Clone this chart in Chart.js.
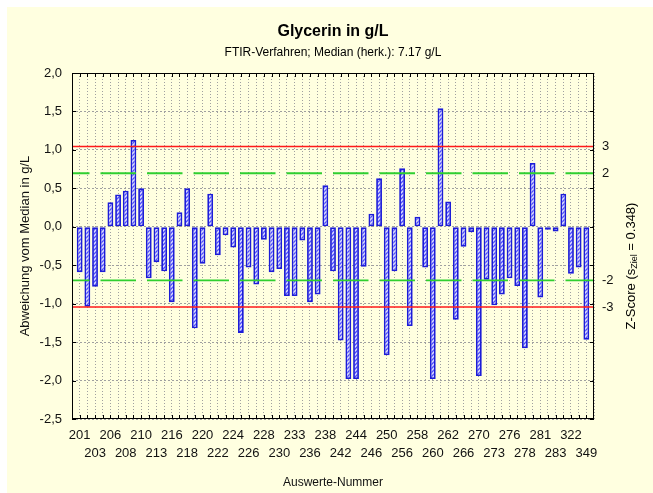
<!DOCTYPE html>
<html lang="de">
<head>
  <meta charset="UTF-8" />
  <title>Glycerin in g/L</title>
  <script src="https://cdn.jsdelivr.net/npm/chart.js"></script>
  <style>
    html, body { margin: 0; padding: 0; background: #ffffff; }
    #wrap { width: 653px; height: 493px; }
  </style>
</head>
<body>
  <div id="wrap"><canvas id="chart" width="653" height="493"></canvas></div>

  <script>
    // Auswerte-Nummern (every bar), deviations from the median in g/L
    const labNumbers = [201, 202, 203, 204, 206, 207, 208, 209, 210, 211, 213, 214, 216, 217, 218, 219,
      220, 221, 222, 223, 224, 225, 226, 227, 228, 229, 230, 231, 233, 234, 236, 237, 238, 239,
      242, 243, 244, 245, 246, 248, 250, 251, 256, 257, 258, 259, 260, 261, 262, 263, 266, 267,
      270, 271, 273, 274, 276, 277, 278, 279, 281, 282, 283, 301, 322, 340, 349];
    const deviations = [-0.59, -1.04, -0.78, -0.59, 0.32, 0.42, 0.47, 1.13, 0.50, -0.67, -0.46, -0.58,
      -0.98, 0.19, 0.50, -1.32, -0.48, 0.43, -0.37, -0.11, -0.27, -1.38, -0.53, -0.75, -0.17, -0.59,
      -0.55, -0.90, -0.90, -0.18, -0.98, -0.88, 0.54, -0.58, -1.48, -1.98, -1.98, -0.52, 0.17, 0.63,
      -1.67, -0.58, 0.76, -1.29, 0.13, -0.53, -1.98, 1.54, 0.33, -1.21, -0.26, -0.07, -1.94, -0.69,
      -1.02, -0.88, -0.67, -0.77, -1.58, 0.83, -0.92, -0.04, -0.06, 0.43, -0.61, -0.53, -1.47];

    // Z-score axis
    const sZiel = 0.348;
    const zScores = [-3, -2, 2, 3];
    const zTickLabels = ['-3', '-2', '2', '3'];

    const FONT = "'Liberation Sans', Arial, Helvetica, sans-serif";
    const AREA = { left: 72, right: 594, top: 73, bottom: 419 };

    // padded category list so bars sit one full slot away from the frame
    const cats = [''].concat(labNumbers.map(String), ['']);
    const barData = [null].concat(deviations, [null]);
    const lineAt = v => cats.map(() => v);

    // hatched fill for the bars
    const hatch = (() => {
      const c = document.createElement('canvas');
      c.width = 4; c.height = 4;
      const g = c.getContext('2d');
      g.fillStyle = '#dcdcff';
      g.fillRect(0, 0, 4, 4);
      g.strokeStyle = '#4b4bff';
      g.lineWidth = 1.3;
      g.beginPath();
      g.moveTo(0, 4); g.lineTo(4, 0);
      g.moveTo(-1, 1); g.lineTo(1, -1);
      g.moveTo(3, 5); g.lineTo(5, 3);
      g.stroke();
      return g.createPattern(c, 'repeat');
    })();

    const backdrop = {
      id: 'backdrop',
      beforeDraw(chart) {
        const ctx = chart.ctx;
        ctx.save();
        ctx.fillStyle = '#ffffff';
        ctx.fillRect(0, 0, chart.width, chart.height);
        ctx.fillStyle = '#ffffe0';
        ctx.fillRect(7, 7, chart.width - 7, chart.height - 7);
        ctx.restore();
      }
    };

    // frame, inward tick marks, titles and the right-hand axis title with subscript
    const decor = {
      id: 'decor',
      afterDraw(chart) {
        const { ctx, chartArea: a, scales } = chart;
        ctx.save();
        ctx.strokeStyle = '#000';
        ctx.lineWidth = 1;
        ctx.strokeRect(a.left + 0.5, a.top + 0.5, a.right - a.left - 1, a.bottom - a.top - 1);
        ctx.beginPath();
        for (let i = 1; i <= labNumbers.length; i++) {
          const x = Math.round(scales.x.getPixelForValue(i)) + 0.5;
          ctx.moveTo(x, a.top); ctx.lineTo(x, a.top + 4);
          ctx.moveTo(x, a.bottom); ctx.lineTo(x, a.bottom - 4);
        }
        scales.y.ticks.forEach(t => {
          const y = Math.round(scales.y.getPixelForValue(t.value)) + 0.5;
          ctx.moveTo(a.left, y); ctx.lineTo(a.left + 4, y);
          ctx.moveTo(a.right, y); ctx.lineTo(a.right - 4, y);
        });
        ctx.stroke();

        const cx = (a.left + a.right) / 2;
        ctx.fillStyle = '#000';
        ctx.textAlign = 'center';
        ctx.textBaseline = 'alphabetic';
        ctx.font = 'bold 16px ' + FONT;
        ctx.fillText('Glycerin in g/L', cx, 36);
        ctx.font = '12px ' + FONT;
        ctx.fillText('FTIR-Verfahren; Median (herk.): 7.17 g/L', cx, 56);

        // Z-Score (s_Ziel = 0.348)
        const parts = [['Z-Score (s', 13, 0], ['Ziel', 9, 3.5], [' = 0.348)', 13, 0]];
        let total = 0;
        parts.forEach(p => { ctx.font = p[1] + 'px ' + FONT; total += ctx.measureText(p[0]).width; });
        ctx.translate(631, 266);
        ctx.rotate(-Math.PI / 2);
        ctx.textAlign = 'left';
        ctx.textBaseline = 'middle';
        let x = -total / 2;
        parts.forEach(p => {
          ctx.font = p[1] + 'px ' + FONT;
          ctx.fillText(p[0], x, p[2]);
          x += ctx.measureText(p[0]).width;
        });
        ctx.restore();
      }
    };

    new Chart(document.getElementById('chart'), {
      data: {
        labels: cats,
        datasets: [
          { type: 'line', data: lineAt(3 * sZiel), borderColor: '#ff1a1a', borderWidth: 1.5,
            pointRadius: 0, order: 0 },
          { type: 'line', data: lineAt(-3 * sZiel), borderColor: '#ff1a1a', borderWidth: 1.5,
            pointRadius: 0, order: 0 },
          { type: 'line', data: lineAt(2 * sZiel), borderColor: '#2fcf2f', borderWidth: 1.8,
            borderDash: [35.5, 11], borderDashOffset: 18, pointRadius: 0, order: 0 },
          { type: 'line', data: lineAt(-2 * sZiel), borderColor: '#2fcf2f', borderWidth: 1.8,
            borderDash: [35.5, 11], borderDashOffset: 18, pointRadius: 0, order: 0 },
          { type: 'bar', data: barData, backgroundColor: hatch, borderColor: '#1c1cd8',
            borderWidth: 1.8, borderSkipped: false, categoryPercentage: 1, barPercentage: 0.76,
            order: 1 }
        ]
      },
      options: {
        responsive: false,
        animation: false,
        events: [],
        layout: { padding: { top: AREA.top, left: 0, right: 0, bottom: 0 } },
        plugins: { legend: { display: false }, tooltip: { enabled: false } },
        scales: {
          x: {
            type: 'category',
            offset: false,
            grid: { offset: false, color: '#a0a0a0', lineWidth: 1, drawTicks: false },
            border: { display: false, dash: [1, 2] },
            ticks: {
              autoSkip: false, maxRotation: 0, minRotation: 0, padding: 7.6, color: '#111',
              font: { family: FONT, size: 13, lineHeight: 18 / 13 },
              callback: (v, idx) => {
                const i = idx - 1;
                if (i < 0 || i >= labNumbers.length || i % 2) return '';
                const s = String(labNumbers[i]);
                return (i / 2) % 2 === 0 ? [s, ''] : ['', s];
              }
            },
            title: { display: true, text: 'Auswerte-Nummer', color: '#111',
              font: { family: FONT, size: 12 }, padding: { top: 0, bottom: 2.8 } },
            afterFit: s => { s.height = 493 - AREA.bottom; }
          },
          y: {
            position: 'left',
            min: -2.5, max: 2.0,
            grid: { color: '#a0a0a0', lineWidth: 1, drawTicks: false },
            border: { display: false, dash: [2, 2] },
            ticks: { stepSize: 0.5, padding: 10, color: '#111', font: { family: FONT, size: 13 },
              callback: v => v.toFixed(1).replace('.', ',') },
            title: { display: true, text: 'Abweichung vom Median in g/L', color: '#111',
              font: { family: FONT, size: 13 }, padding: { top: 18, bottom: 0 } },
            afterFit: s => { s.width = AREA.left; }
          },
          z: {
            position: 'right',
            min: -2.5, max: 2.0,
            grid: { display: false, drawTicks: false },
            border: { display: false },
            afterBuildTicks: s => { s.ticks = zScores.map(z => ({ value: z * sZiel })); },
            ticks: { padding: 8, color: '#111', font: { family: FONT, size: 13 },
              callback: (v, idx) => zTickLabels[idx] },
            afterFit: s => { s.width = 653 - AREA.right; }
          }
        }
      },
      plugins: [backdrop, decor]
    });
  </script>
</body>
</html>
